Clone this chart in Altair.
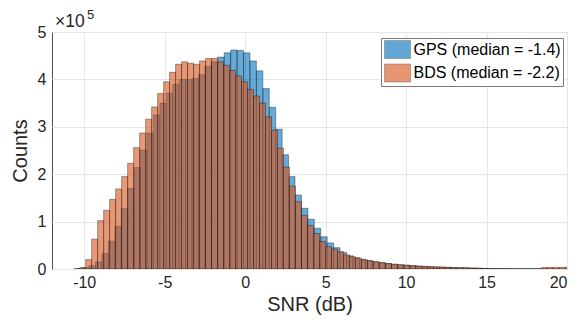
import altair as alt
import pandas as pd

# ---- data (counts in units of 1e5) ----
GPS_LABEL = "GPS (median = -1.4)"
BDS_LABEL = "BDS (median = -2.2)"

gps_start = -10.5
gps_width = 0.4
gps_counts = [
    0.005, 0.03, 0.07, 0.15, 0.33, 0.59, 0.90, 1.28, 1.70, 2.14,
    2.51, 2.87, 3.25, 3.50, 3.71, 3.90, 4.00, 4.00, 4.02, 4.10,
    4.28, 4.37, 4.47, 4.56, 4.62, 4.61, 4.56, 4.39, 4.18, 3.81,
    3.41, 2.95, 2.41, 1.95, 1.56, 1.28, 1.05, 0.86, 0.68, 0.55,
    0.45, 0.35, 0.28, 0.24, 0.205, 0.18, 0.155, 0.135, 0.115, 0.10,
    0.088, 0.078, 0.07, 0.06, 0.052, 0.045, 0.04, 0.036, 0.032, 0.028,
    0.025, 0.022, 0.018, 0.012, 0.008, 0.006, 0.005, 0.004, 0.003, 0.003,
    0.002, 0.002, 0.002, 0.002, 0.002, 0.002, 0.002,
]

bds_start = -10.6525
bds_width = 0.3725
bds_counts = [
    0.005, 0.03, 0.20, 0.63, 1.02, 1.24, 1.47, 1.69, 1.95, 2.23,
    2.56, 2.87, 3.16, 3.42, 3.70, 3.95, 4.15, 4.32, 4.37, 4.34,
    4.32, 4.39, 4.44, 4.44, 4.37, 4.30, 4.19, 4.07, 3.95, 3.79,
    3.65, 3.50, 3.21, 2.93, 2.55, 2.15, 1.75, 1.42, 1.13, 0.92,
    0.75, 0.58, 0.47, 0.42, 0.37, 0.30, 0.26, 0.23, 0.195, 0.17,
    0.15, 0.13, 0.115, 0.10, 0.09, 0.08, 0.07, 0.063, 0.056, 0.05,
    0.045, 0.04, 0.035, 0.03, 0.027, 0.024, 0.02, 0.016, 0.012, 0.008,
    0.006, 0.005, 0.004, 0.003, 0.003, 0.003, 0.003, 0.004, 0.03, 0.035,
    0.035, 0.035, 0.04,
]

x_ticks = [-10, -5, 0, 5, 10, 15, 20]
y_ticks = [0, 1, 2, 3, 4, 5]

rows = []
for i, v in enumerate(gps_counts):
    x0 = gps_start + i * gps_width
    rows.append({"series": GPS_LABEL, "x0": x0, "x1": x0 + gps_width,
                 "count": v, "base": 0})
for i, v in enumerate(bds_counts):
    x0 = bds_start + i * bds_width
    rows.append({"series": BDS_LABEL, "x0": x0, "x1": x0 + bds_width,
                 "count": v, "base": 0})
df = pd.DataFrame(rows)

FONT = "Liberation Sans"

color = alt.Color(
    "series:N",
    scale=alt.Scale(domain=[GPS_LABEL, BDS_LABEL], range=["#0072BD", "#D95319"]),
    legend=alt.Legend(
        orient="none", legendX=329, legendY=6, title=None,
        fillColor="white", strokeColor="#7a7a7a", padding=2,
        labelFont=FONT, labelFontSize=16, labelColor="#000000", labelLimit=300,
        labelOffset=11.5,
        symbolType="M-0.889,-1L2,-1L2,1L-0.889,1Z", symbolSize=324,
        symbolStrokeColor="#333333", symbolStrokeWidth=0.6, symbolOpacity=0.62,
        rowPadding=2.5,
    ),
)

x_enc = alt.X(
    "x0:Q",
    scale=alt.Scale(domain=[-12, 20], nice=False, zero=False),
    axis=alt.Axis(values=x_ticks, title="SNR (dB)", labelPadding=5, titlePadding=4,
                  labelExpr="'' + datum.value"),
)
y_enc = alt.Y(
    "count:Q",
    scale=alt.Scale(domain=[0, 5], nice=False),
    axis=alt.Axis(values=y_ticks, title="Counts", labelPadding=6, titlePadding=7,
                  labelExpr="'' + datum.value"),
)

bar_style = dict(fillOpacity=0.6, stroke="#000000", strokeOpacity=0.7,
                 strokeWidth=0.5, clip=True)

gps_layer = alt.Chart(df).transform_filter(
    alt.datum.series == GPS_LABEL
).mark_rect(**bar_style).encode(x=x_enc, x2="x1:Q", y=y_enc, y2="base:Q", color=color)

bds_layer = alt.Chart(df).transform_filter(
    alt.datum.series == BDS_LABEL
).mark_rect(**bar_style).encode(x=x_enc, x2="x1:Q", y=y_enc, y2="base:Q", color=color)

exp_base = alt.Chart(pd.DataFrame({"t": ["\u00d710"]})).mark_text(
    font=FONT, fontSize=17.5, align="left", baseline="alphabetic", color="#262626"
).encode(text="t:N", x=alt.value(3), y=alt.value(-5))

exp_sup = alt.Chart(pd.DataFrame({"t": ["5"]})).mark_text(
    font=FONT, fontSize=13, align="left", baseline="alphabetic", color="#262626"
).encode(text="t:N", x=alt.value(35), y=alt.value(-13))

chart = alt.layer(gps_layer, bds_layer, exp_base, exp_sup).properties(
    width=515, height=237,
    autosize=alt.AutoSizeParams(type="none"),
    padding={"left": 52, "top": 32, "right": 17, "bottom": 55},
).configure_view(
    stroke="#4d4d4d", strokeWidth=1
).configure_axis(
    grid=True, gridColor="#e6e6e6", gridWidth=1, domain=False, ticks=False,
    labelFont=FONT, labelFontSize=16, labelColor="#262626",
    titleFont=FONT, titleFontSize=20, titleFontWeight="normal", titleColor="#262626",
)

chart.save("out.html", embed_options={"renderer": "svg", "actions": False})
